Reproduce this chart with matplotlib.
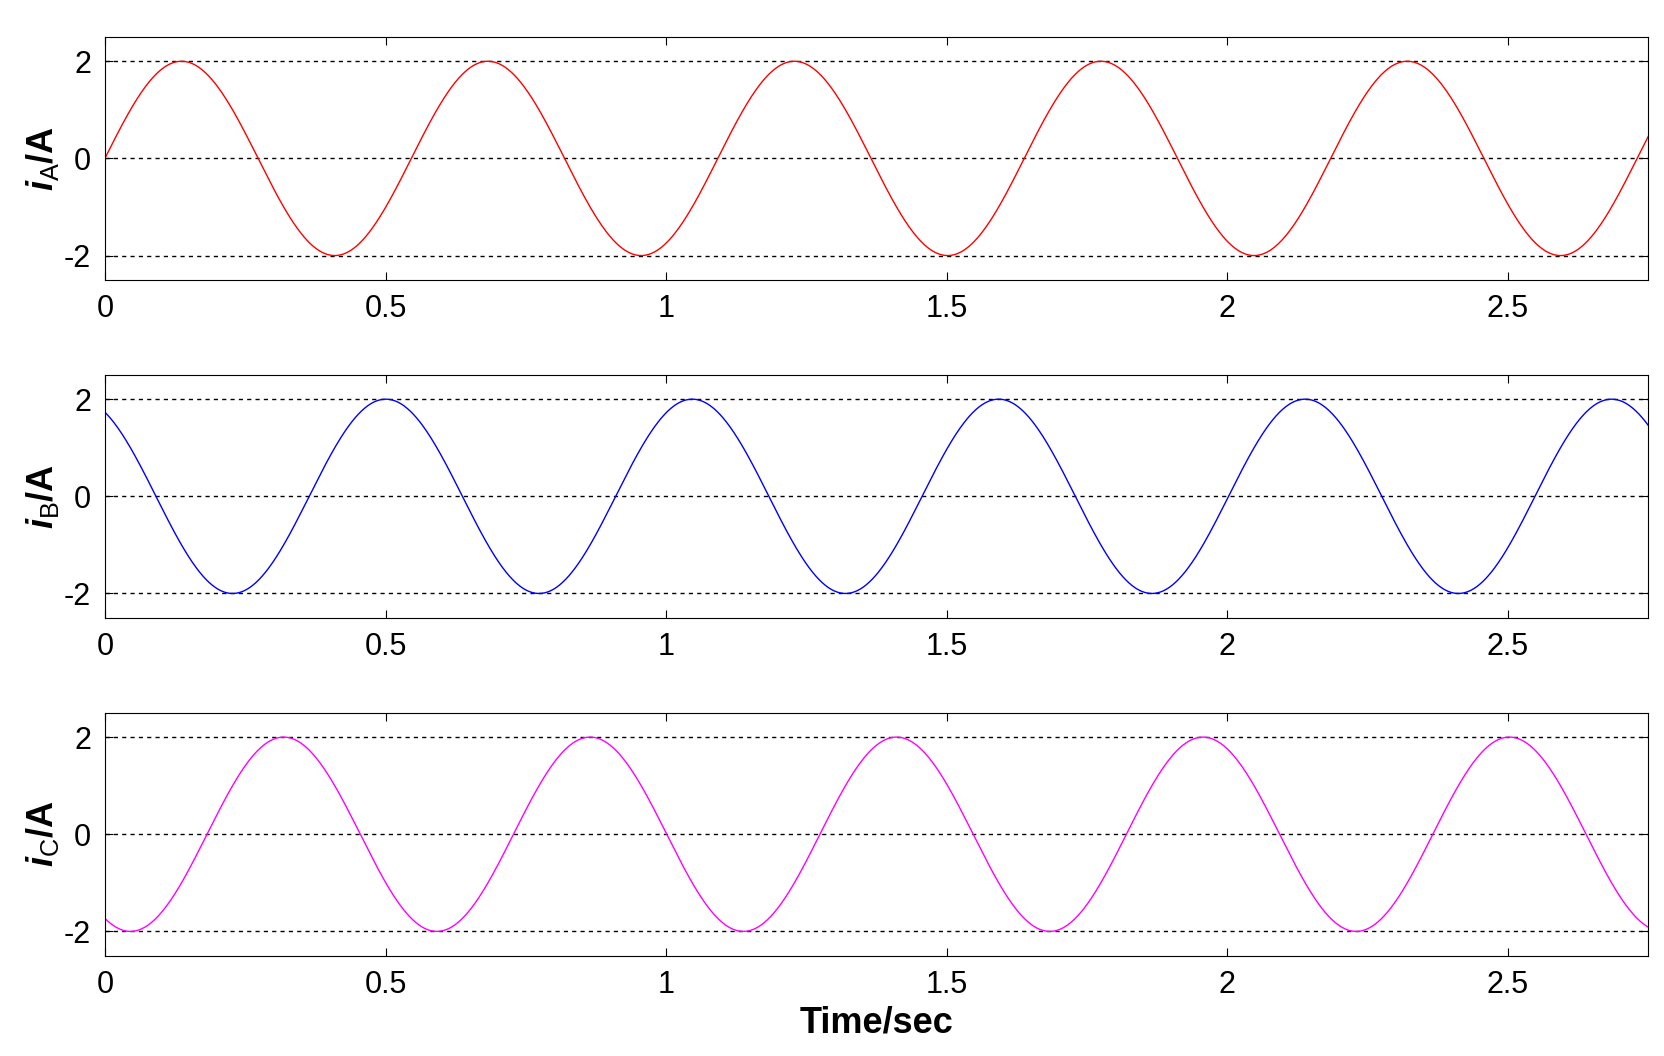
import numpy as np
import matplotlib.pyplot as plt

plt.rcParams['font.family'] = ['Liberation Sans', 'DejaVu Sans']
plt.rcParams['axes.unicode_minus'] = False
plt.rcParams['mathtext.fontset'] = 'custom'
plt.rcParams['mathtext.rm'] = 'Liberation Sans'
plt.rcParams['mathtext.it'] = 'Liberation Sans:italic:bold'
plt.rcParams['mathtext.bf'] = 'Liberation Sans:bold'

# values
amplitude = 2.0          # A, all three phases
period = 0.546           # s, peak-to-peak spacing
phase_deg = [0, 120, -120]   # iA, iB, iC phase offsets
labels = ['$\\mathit{i}_{\\mathrm{A}}$/A', '$\\mathit{i}_{\\mathrm{B}}$/A', '$\\mathit{i}_{\\mathrm{C}}$/A']
colors = ['#ff0000', '#0000ff', '#ff00ff']
t_end = 2.75

t = np.linspace(0, t_end, 2000)
w = 2 * np.pi / period

fig = plt.figure(figsize=(16.65, 10.56), dpi=100)
boxes = [(0.063, 0.735, 0.927, 0.23), (0.063, 0.415, 0.927, 0.23), (0.063, 0.095, 0.927, 0.23)]

for k in range(3):
    ax = fig.add_axes(boxes[k])
    y = amplitude * np.sin(w * t + np.deg2rad(phase_deg[k]))
    ax.plot(t, y, color=colors[k], lw=1.0)
    for g in (-2, 0, 2):
        ax.axhline(g, color='black', ls=(0, (3, 3)), lw=1.0, zorder=0)
    ax.set_xlim(0, t_end)
    ax.set_ylim(-2.5, 2.5)
    ax.set_yticks([-2, 0, 2])
    ax.set_xticks([0, 0.5, 1, 1.5, 2, 2.5])
    ax.set_xticklabels(['0', '0.5', '1', '1.5', '2', '2.5'])
    ax.tick_params(direction='in', top=True, right=True, labelsize=22, length=6, pad=10)
    ax.set_ylabel(labels[k], fontsize=26, fontweight='bold', labelpad=2)
    if k == 2:
        ax.set_xlabel('Time/sec', fontsize=26, fontweight='bold', labelpad=4)

fig.savefig('out.png', dpi=100)
